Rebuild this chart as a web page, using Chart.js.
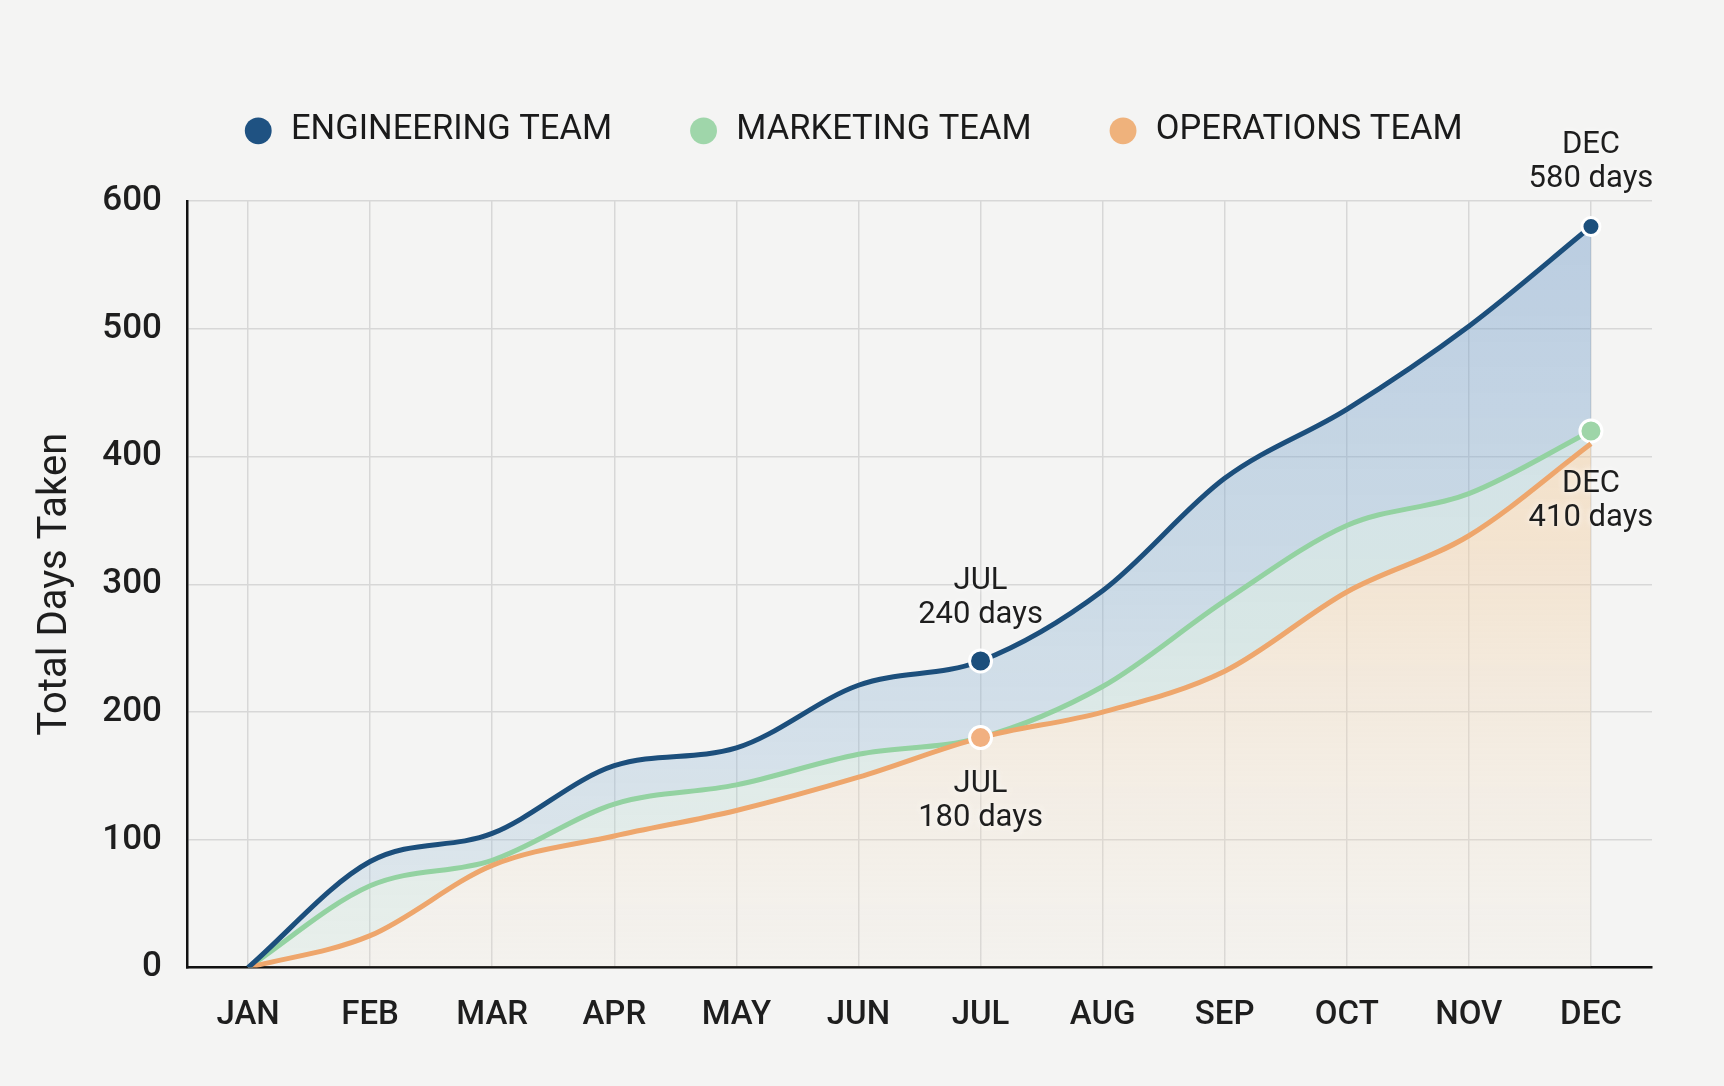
<!DOCTYPE html>
<html>
<head>
<meta charset="utf-8">
<script src="https://cdn.jsdelivr.net/npm/chart.js@4.4.1/dist/chart.umd.min.js"></script>
<style>
  html, body { margin: 0; padding: 0; background: #f4f4f3; }
  #wrap { width: 1724px; height: 1086px; position: relative; background: #f4f4f3; }
  canvas { display: block; }
</style>
</head>
<body>
<div id="wrap"><canvas id="c" width="1724" height="1086"></canvas></div>
<script>
// ---------- DATA ----------
const months = ['JAN', 'FEB', 'MAR', 'APR', 'MAY', 'JUN', 'JUL', 'AUG', 'SEP', 'OCT', 'NOV', 'DEC'];
const seriesNames = ['ENGINEERING TEAM', 'MARKETING TEAM', 'OPERATIONS TEAM'];
const engineering = [0, 83, 105, 158, 172, 221, 240, 295, 383, 437, 502, 580];
const marketing   = [0, 64, 84, 128, 143, 167, 180, 220, 287, 346, 371, 420];
const operations  = [0, 25, 80, 103, 123, 149, 180, 200, 232, 294, 338, 410];
const yTickValues = [0, 100, 200, 300, 400, 500, 600];
const yAxisTitle = 'Total Days Taken';
const markedMonths = [['JUL', 'DEC'], ['DEC'], ['JUL']];
const calloutSeries = [0, 2, 0, 1];
const calloutMonths = ['JUL', 'JUL', 'DEC', 'DEC'];
const calloutTexts = [['JUL', '240 days'], ['JUL', '180 days'], ['DEC', '580 days'], ['DEC', '410 days']];

// ---------- STYLE ----------
const FONT = 'Roboto, "Open Sans", sans-serif';
const lineColors = ['#1c4f7c', '#93d2a1', '#eea66c'];
const legendColors = ['#1f5282', '#9fd6aa', '#efb27c'];
const pointFills = ['#1c4f7c', '#9ed5a8', '#f1b080'];
const calloutOffsets = [-80, 47, -81, 53];

function vGrad(chart, stops, fallback) {
  const { ctx, chartArea } = chart;
  if (!chartArea) return fallback;
  const g = ctx.createLinearGradient(0, chartArea.top, 0, chartArea.bottom);
  stops.forEach(([o, c]) => g.addColorStop(o, c));
  return g;
}

const fills = [
  c => vGrad(c.chart, [[0, 'rgba(105,150,198,0.42)'], [0.5, 'rgba(130,172,208,0.36)'], [1, 'rgba(165,198,220,0.25)']], 'rgba(120,160,200,0.35)'),
  c => vGrad(c.chart, [[0, 'rgba(130,178,205,0.34)'], [0.55, 'rgba(150,200,200,0.30)'], [1, 'rgba(185,220,205,0.2)']], 'rgba(150,195,200,0.3)'),
  c => vGrad(c.chart, [[0, 'rgba(240,192,135,0.55)'], [0.45, 'rgba(242,205,160,0.42)'], [1, 'rgba(243,228,205,0.12)']], 'rgba(240,200,150,0.35)')
];

function makeDataset(i, values, fillTarget, order) {
  return {
    label: seriesNames[i],
    data: values,
    borderColor: lineColors[i],
    borderWidth: 5,
    backgroundColor: fills[i],
    fill: fillTarget,
    cubicInterpolationMode: 'monotone',
    order: order,
    pointRadius: ctx => markedMonths[i].includes(months[ctx.dataIndex]) ? (i === 0 && months[ctx.dataIndex] === 'DEC' ? 9 : 11) : 0,
    pointHoverRadius: ctx => markedMonths[i].includes(months[ctx.dataIndex]) ? 10 : 0,
    pointBackgroundColor: pointFills[i],
    pointBorderColor: '#ffffff',
    pointBorderWidth: 3
  };
}

const calloutPlugin = {
  id: 'callouts',
  afterDatasetsDraw(chart) {
    const { ctx } = chart;
    ctx.save();
    ctx.font = `31px ${FONT}`;
    ctx.textAlign = 'center';
    ctx.textBaseline = 'middle';
    ctx.fillStyle = '#1e1e1e';
    ctx.shadowColor = 'rgba(255,255,255,0.95)';
    ctx.shadowBlur = 6;
    calloutTexts.forEach((lines, k) => {
      const meta = chart.getDatasetMeta(calloutSeries[k]);
      const el = meta.data[months.indexOf(calloutMonths[k])];
      const y0 = el.y + calloutOffsets[k];
      lines.forEach((t, j) => ctx.fillText(t, el.x, y0 + j * 34));
    });
    ctx.restore();
  }
};

const legendHeightPlugin = {
  id: 'legendHeight',
  beforeInit(chart) {
    const orig = chart.legend.fit;
    chart.legend.fit = function () {
      orig.call(this);
      this.height = 163.4;
    };
  }
};

new Chart(document.getElementById('c'), {
  type: 'line',
  data: {
    labels: months,
    datasets: [
      makeDataset(0, engineering, '+1', 0),
      makeDataset(1, marketing, '+1', 2),
      makeDataset(2, operations, 'origin', 1)
    ]
  },
  options: {
    responsive: false,
    animation: false,
    devicePixelRatio: 1,
    layout: { padding: { left: 53.4, right: 72, top: 37.6, bottom: 0 } },
    plugins: {
      filler: { drawTime: 'beforeDatasetsDraw' },
      legend: {
        position: 'top',
        align: 'center',
        labels: {
          usePointStyle: true,
          pointStyle: 'circle',
          boxWidth: 31,
          boxHeight: 19,
          padding: 76,
          color: '#1a1a1a',
          font: { family: FONT, size: 34.5 },
          generateLabels: chart => chart.data.datasets.map((ds, i) => ({
            text: ds.label,
            fillStyle: legendColors[i],
            strokeStyle: legendColors[i],
            lineWidth: 0,
            pointStyle: 'circle',
            hidden: false,
            datasetIndex: i,
            fontColor: '#1a1a1a'
          }))
        }
      },
      tooltip: { enabled: false }
    },
    scales: {
      x: {
        offset: true,
        grid: { offset: false, color: '#d7d7d7', lineWidth: 1.5, drawTicks: false },
        border: { display: true, color: '#111111', width: 2.5 },
        ticks: { color: '#1e1e1e', padding: 28, font: { family: FONT, size: 33, weight: 500 }, maxRotation: 0, autoSkip: false },
        afterFit(s) { s.height = 118.4; }
      },
      y: {
        min: 0,
        max: 600,
        afterBuildTicks(s) { s.ticks = yTickValues.map(v => ({ value: v })); },
        grid: { color: '#d7d7d7', lineWidth: 1.5, drawTicks: false },
        border: { display: true, color: '#111111', width: 2.5 },
        ticks: { color: '#1e1e1e', padding: 25, font: { family: FONT, size: 35, weight: 500 } },
        title: {
          display: true,
          text: yAxisTitle,
          color: '#1e1e1e',
          font: { family: FONT, size: 40, lineHeight: 1 },
          padding: { top: -17.4, bottom: 0 }
        },
        afterFit(s) { s.width = 133.6; }
      }
    }
  },
  plugins: [legendHeightPlugin, calloutPlugin]
});
</script>
</body>
</html>
